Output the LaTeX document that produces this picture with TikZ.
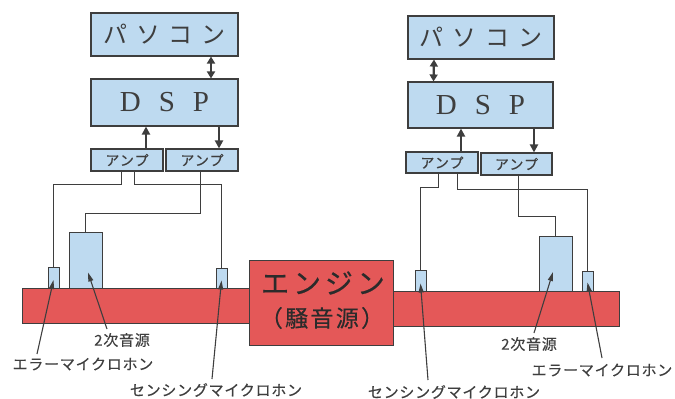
\documentclass[tikz,border=0pt]{standalone}
\usepackage{fontspec}
\newfontfamily\jp{Noto Sans CJK JP}
\setmainfont{Liberation Serif}
\usetikzlibrary{arrows.meta}
\definecolor{boxblue}{RGB}{190,218,240}
\definecolor{engred}{RGB}{228,88,88}
\definecolor{ink}{RGB}{62,62,62}
\tikzset{
  bluebox/.style={draw=ink, line width=1.1pt, fill=boxblue, inner sep=0pt, anchor=center, text=ink},
  redbox/.style={draw=ink, line width=1pt, fill=engred, inner sep=0pt, anchor=center},
  engtext/.style={inner sep=0pt, anchor=center, text=ink!70!black},
  wire/.style={draw=ink, line width=0.9pt},
  bigarrow/.style={draw=ink, line width=2.2pt, -{Triangle[length=8pt,width=8pt]}},
  dblarrow/.style={draw=ink, line width=2.2pt, {Triangle[length=7pt,width=8pt]}-{Triangle[length=7pt,width=8pt]}},
  labarrow/.style={draw=ink, line width=1.1pt, -{Triangle[length=9pt,width=5pt]}},
  lbl/.style={inner sep=0pt, anchor=center, text=ink, font=\jp\fontsize{15}{17}\selectfont\addfontfeatures{LetterSpace=5,FakeBold=0.4}},
  pctext/.style={font=\jp\fontsize{24}{28}\selectfont\addfontfeatures{LetterSpace=37}},
  dsptext/.style={font=\fontsize{29}{33}\selectfont},
  amptext/.style={font=\jp\fontsize{14}{16}\selectfont\addfontfeatures{LetterSpace=8,FakeBold=0.4}},
}
\begin{document}
\begin{tikzpicture}[x=1pt,y=-1pt]
\useasboundingbox (0,0) rectangle (675,399);
% red bars and engine
\path[fill=engred, draw=ink, line width=1pt] (22,288) rectangle (252,323);
\path[fill=engred, draw=ink, line width=1pt] (390,291) rectangle (619,326);
\node[redbox, minimum width=144pt, minimum height=85pt] (eng) at (321,302.5) {};
\node[engtext, font=\jp\fontsize{28}{30}\selectfont\addfontfeatures{LetterSpace=14,FakeBold=0.4}] (engT1) at (323,283) {エンジン};
\node[engtext, font=\jp\fontsize{23}{26}\selectfont\addfontfeatures{LetterSpace=10,FakeBold=0.4}] (engT2) at (322,318) {（騒音源）};
% left system
\node[bluebox, minimum width=147pt, minimum height=43pt, pctext] (pcL) at (164.5,34.5) {パソコン};
\node[bluebox, minimum width=147pt, minimum height=47pt, dsptext] (dspL) at (164.5,102.5) {D\hspace{0.62em}S\hspace{0.62em}P};
\node[bluebox, minimum width=72pt, minimum height=22pt, amptext] (ampL1) at (127,160) {アンプ};
\node[bluebox, minimum width=72pt, minimum height=22pt, amptext] (ampL2) at (202,160) {アンプ};
\node[bluebox, line width=0.9pt, minimum width=11pt, minimum height=21pt] (errL) at (53.5,278) {};
\node[bluebox, line width=0.9pt, minimum width=33pt, minimum height=56pt] (srcL) at (85.5,260) {};
\node[bluebox, line width=0.9pt, minimum width=11pt, minimum height=20pt] (senL) at (221.5,278.5) {};
% right system
\node[bluebox, minimum width=146pt, minimum height=43pt, pctext] (pcR) at (481,37.5) {パソコン};
\node[bluebox, minimum width=145pt, minimum height=46pt, dsptext] (dspR) at (480.5,105) {D\hspace{0.62em}S\hspace{0.62em}P};
\node[bluebox, minimum width=72pt, minimum height=21pt, amptext] (ampR1) at (442,162.5) {アンプ};
\node[bluebox, minimum width=71pt, minimum height=22pt, amptext] (ampR2) at (516.5,164) {アンプ};
\node[bluebox, line width=0.9pt, minimum width=11pt, minimum height=21pt] (senR) at (420.5,281) {};
\node[bluebox, line width=0.9pt, minimum width=33pt, minimum height=55pt] (srcR) at (555.5,263.5) {};
\node[bluebox, line width=0.9pt, minimum width=11pt, minimum height=20pt] (errR) at (587.5,281.5) {};
% arrows between boxes
\draw[dblarrow] ([xshift=46.5pt]pcL.south) -- ([xshift=46.5pt]dspL.north);
\draw[dblarrow] ([xshift=-47pt]pcR.south) -- ([xshift=-47pt]dspR.north);
\coordinate (a1) at ([xshift=19pt]ampL1.north);
\draw[bigarrow] (a1) -- (a1 |- dspL.south);
\coordinate (a2) at ([xshift=17pt]ampL2.north);
\draw[bigarrow] (a2 |- dspL.south) -- (a2);
\coordinate (a3) at ([xshift=19pt]ampR1.north);
\draw[bigarrow] (a3) -- (a3 |- dspR.south);
\coordinate (a4) at ([xshift=17.5pt]ampR2.north);
\draw[bigarrow] (a4 |- dspR.south) -- (a4);
% wires
\draw[wire] ([xshift=-6pt]ampL1.south) -- ++(0,13) -| (errL.north);
\draw[wire] ([xshift=7pt]ampL1.south) -- ++(0,13) -| (senL.north);
\draw[wire] ([xshift=-2pt]ampL2.south) -- ++(0,42) -| (srcL.north);
\draw[wire] ([xshift=-4pt]ampR1.south) -- ++(0,14) -| (senR.north);
\draw[wire] ([xshift=15pt]ampR1.south) -- ++(0,16) -| (errR.north);
\draw[wire] ([xshift=1.5pt]ampR2.south) -- ++(0,41) -| (srcR.north);
% labels
\node[lbl] (lSrcL) at (122,340) {2次音源};
\node[lbl] (lErrL) at (83,364) {エラーマイクロホン};
\node[lbl] (lSenL) at (216,390) {センシングマイクロホン};
\node[lbl] (lSrcR) at (529,344) {2次音源};
\node[lbl] (lErrR) at (602,370) {エラーマイクロホン};
\node[lbl] (lSenR) at (454,392) {センシングマイクロホン};
\coordinate (sSrcL) at (107,329);
\coordinate (sErrL) at (37,354);
\coordinate (sSenL) at (212,379);
\coordinate (sSrcR) at (534,333);
\coordinate (sErrR) at (602,358);
\coordinate (sSenR) at (428,380);
\draw[labarrow] (sSrcL) -- ([xshift=2.5pt,yshift=-12.5pt]srcL.center);
\draw[labarrow] (sErrL) -- ([yshift=-2pt]errL.center);
\draw[labarrow] (sSenL) -- ([yshift=-2pt]senL.center);
\draw[labarrow] (sSrcR) -- ([xshift=-2.5pt,yshift=-8.5pt]srcR.center);
\draw[labarrow] (sErrR) -- ([yshift=-1pt]errR.center);
\draw[labarrow] (sSenR) -- ([yshift=-2.5pt]senR.center);
\end{tikzpicture}
\end{document}
